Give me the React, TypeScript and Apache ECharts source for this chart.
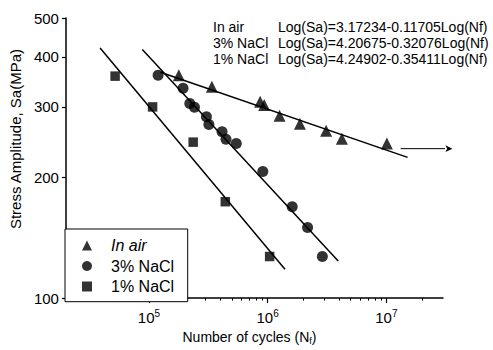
import React, { useEffect, useRef } from "react";
import * as echarts from "echarts";

const FONT = "'Liberation Sans', Arial, sans-serif";

// In air
const airN = [1.785e5, 3.39e5, 8.65e5, 9.35e5, 1.26e6, 1.87e6, 3.11e6, 4.22e6, 1.01e7];
const airS = [360, 337, 309, 303.5, 285, 272.5, 261.5, 250, 243];
// 3% NaCl
const nacl3N = [1.195e5, 1.94e5, 2.21e5, 2.42e5, 3.05e5, 3.2e5, 4.13e5, 4.46e5, 5.44e5, 9.11e5, 1.61e6, 2.17e6, 2.89e6];
const nacl3S = [360, 334, 306, 299.5, 283.5, 271, 260, 249, 243, 207, 169, 150, 127];
// 1% NaCl
const nacl1N = [5.19e4, 1.074e5, 2.36e5, 4.4e5, 1.04e6];
const nacl1S = [358, 300, 245, 174, 127];

// fitted lines (end points)
const airFitN = [1.25e5, 1.51e7];
const airFitS = [366, 224.5];
const nacl3FitN = [8.8e4, 3.93e6];
const nacl3FitS = [417, 123.7];
const nacl1FitN = [3.88e4, 1.4e6];
const nacl1FitS = [421, 118];
const arrowN = [1.32e7, 3.6e7];
const arrowS = [236, 236];

const yTicks = [100, 200, 300, 400, 500];
const xTicks = [1e5, 1e6, 1e7];
const xMinorTicks = [3e4, 4e4, 5e4, 6e4, 7e4, 8e4, 9e4, 2e5, 3e5, 4e5, 5e5, 6e5, 7e5, 8e5, 9e5, 2e6, 3e6, 4e6, 5e6, 6e6, 7e6, 8e6, 9e6, 2e7];

const seriesNames = ["In air", "3% NaCl", "1% NaCl"];
const equations = [
  "Log(Sa)=3.17234-0.11705Log(Nf)",
  "Log(Sa)=4.20675-0.32076Log(Nf)",
  "Log(Sa)=4.24902-0.35411Log(Nf)",
];

const zip = (a: number[], b: number[]) => a.map((v, i) => [v, b[i]]);

export default function App() {
  const ref = useRef<HTMLDivElement>(null);
  useEffect(() => {
    if (!ref.current) return;
    const chart = echarts.init(ref.current, null, { renderer: "svg" });
    const lineStyle = { color: "#000", width: 1.5 };
    const fitSeries = (data: number[][]) => ({
      type: "line",
      data,
      symbol: "none",
      lineStyle,
      silent: true,
      z: 2,
    });
    chart.setOption({
      animation: false,
      backgroundColor: "#fff",
      textStyle: { fontFamily: FONT, color: "#000" },
      grid: { left: 65, right: 50, top: 18, bottom: 48 },
      legend: {
        data: seriesNames,
        orient: "vertical",
        left: 82,
        top: 237.5,
        padding: 0,
        itemGap: 4.5,
        itemWidth: 10,
        itemHeight: 10,
        selectedMode: false,
        formatter: (name: string) => (name === "In air" ? `{i|${name}}` : `{a|${name}}`),
        textStyle: {
          fontFamily: FONT,
          fontSize: 16,
          color: "#000",
          rich: {
            a: { fontFamily: FONT, fontSize: 16, color: "#000", padding: [0, 0, 0, 14] },
            i: { fontFamily: FONT, fontSize: 16, color: "#000", fontStyle: "italic", padding: [0, 0, 0, 14] },
          },
        },
        z: 10,
      },
      xAxis: [
        {
          type: "log",
          min: 2e4,
          max: 3e7,
          position: "bottom",
          name: "Number of cycles (N{sub|f})",
          nameLocation: "middle",
          nameGap: 30,
          nameTextStyle: {
            fontFamily: FONT,
            fontSize: 14,
            color: "#000",
            padding: [0, 10, 0, 0],
            rich: { sub: { fontFamily: FONT, fontSize: 9, color: "#000", padding: [7, 0, 0, 0] } },
          },
          axisLine: { lineStyle: { color: "#000", width: 1.5 } },
          axisTick: { customValues: xTicks, length: 5, lineStyle: { color: "#000", width: 1.2 } },
          axisLabel: {
            customValues: xTicks,
            margin: 10,
            fontFamily: FONT,
            fontSize: 15,
            color: "#000",
            formatter: (v: number) => `10{sup|${Math.round(Math.log10(v))}}`,
            rich: { sup: { fontFamily: FONT, fontSize: 10, color: "#000", padding: [0, 0, 9, 0] } },
          },
          splitLine: { show: false },
        },
        {
          type: "log",
          min: 2e4,
          max: 3e7,
          position: "bottom",
          axisLine: { show: false },
          axisTick: { customValues: xMinorTicks, length: 2.5, lineStyle: { color: "#000", width: 1 } },
          axisLabel: { show: false },
          splitLine: { show: false },
        },
      ],
      yAxis: {
        type: "log",
        min: 100,
        max: 500,
        name: "Stress Amplitude, Sa(MPa)",
        nameLocation: "middle",
        nameRotate: 90,
        nameGap: 37,
        nameTextStyle: { fontFamily: FONT, fontSize: 15, color: "#000", padding: [0, 0, 0, 38] },
        axisLine: { lineStyle: { color: "#000", width: 1.5 } },
        axisTick: { customValues: yTicks, length: 4, lineStyle: { color: "#000", width: 1.2 } },
        axisLabel: { customValues: yTicks, margin: 7, fontFamily: FONT, fontSize: 15, color: "#000" },
        splitLine: { show: false },
      },
      graphic: [
        {
          type: "rect",
          shape: { x: 65, y: 229, width: 122.7, height: 72.7 },
          style: { fill: "#fff", stroke: "#000", lineWidth: 1 },
          z: 5,
        },
        ...["In air", "3% NaCl", "1% NaCl"].map((t, i) => ({
          type: "text",
          x: 213,
          y: 27 + i * 16.2,
          style: { text: t, fontFamily: FONT, fontSize: 14, fill: "#000", verticalAlign: "middle" },
        })),
        ...equations.map((t, i) => ({
          type: "text",
          x: 278,
          y: 27 + i * 16.2,
          style: { text: t, fontFamily: FONT, fontSize: 14, fill: "#000", verticalAlign: "middle" },
        })),
      ],
      series: [
        {
          name: "In air",
          type: "scatter",
          symbol: "triangle",
          symbolSize: 12,
          itemStyle: { color: "#000" },
          data: zip(airN, airS),
          z: 3,
        },
        {
          name: "3% NaCl",
          type: "scatter",
          symbol: "circle",
          symbolSize: 11,
          itemStyle: { color: "#000" },
          data: zip(nacl3N, nacl3S),
          z: 3,
        },
        {
          name: "1% NaCl",
          type: "scatter",
          symbol: "rect",
          symbolSize: 9.5,
          itemStyle: { color: "#000" },
          data: zip(nacl1N, nacl1S),
          z: 3,
        },
        fitSeries(zip(airFitN, airFitS)),
        fitSeries(zip(nacl3FitN, nacl3FitS)),
        fitSeries(zip(nacl1FitN, nacl1FitS)),
        {
          type: "line",
          clip: false,
          silent: true,
          lineStyle: { color: "#000", width: 1 },
          itemStyle: { color: "#000" },
          data: [
            { value: [arrowN[0], arrowS[0]], symbol: "none" },
            { value: [arrowN[1], arrowS[1]], symbol: "arrow", symbolRotate: -90, symbolSize: [5, 7] },
          ],
        },
      ],
    });
    return () => chart.dispose();
  }, []);
  return (
    <div
      ref={ref}
      style={{ position: "fixed", left: 0, top: 0, width: 493, height: 350, background: "#fff" }}
    />
  );
}
